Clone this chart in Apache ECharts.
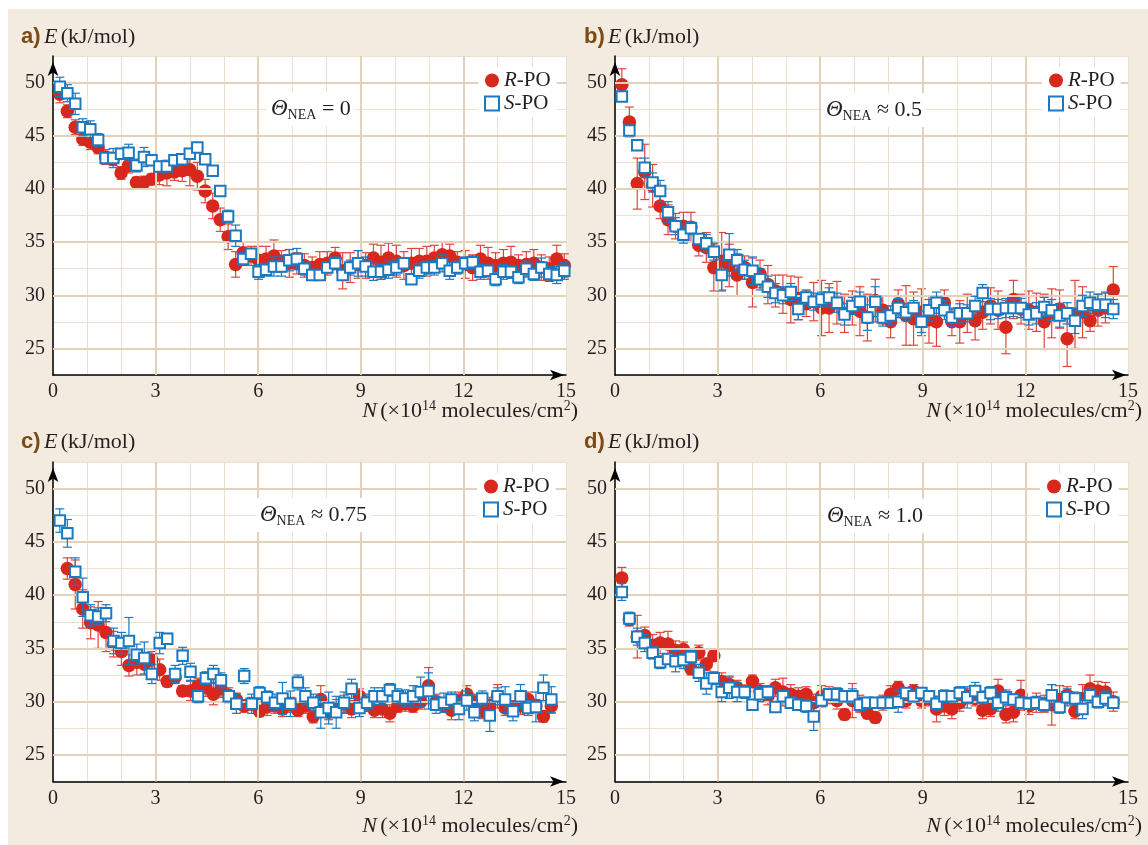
<!DOCTYPE html>
<html><head><meta charset="utf-8">
<script src="https://cdn.jsdelivr.net/npm/echarts@6/dist/echarts.min.js"></script>
<style>html,body{margin:0;padding:0;background:#fff;}#c{width:1148px;height:845px;}</style>
</head><body><div id="c"></div>
<script>
// ---------- DATA ----------
const xTickLabels = [0, 3, 6, 9, 12, 15];
const yTickLabels = [25, 30, 35, 40, 45, 50];
const panelLetters = ['a)', 'b)', 'c)', 'd)'];
const thetaValues = ['= 0', '≈ 0.5', '≈ 0.75', '≈ 1.0'];
const seriesNames = ['R-PO', 'S-PO'];

const nA = [0.20,0.42,0.65,0.87,1.09,1.32,1.54,1.76,1.99,2.21,2.44,2.66,2.88,3.11,3.33,3.55,3.78,4.00,4.22,4.45,4.67,4.89,5.12,5.34,5.56,5.79,6.01,6.23,6.46,6.68,6.91,7.13,7.35,7.58,7.80,8.02,8.25,8.47,8.69,8.92,9.14,9.37,9.59,9.81,10.04,10.26,10.48,10.71,10.93,11.15,11.38,11.60,11.82,12.05,12.27,12.50,12.72,12.94,13.17,13.39,13.61,13.84,14.06,14.28,14.51,14.73,14.95];
const nBCD = [0.20,0.42,0.65,0.87,1.10,1.32,1.55,1.77,2.00,2.22,2.45,2.67,2.89,3.12,3.34,3.57,3.79,4.02,4.24,4.47,4.69,4.91,5.14,5.36,5.59,5.81,6.04,6.26,6.49,6.71,6.94,7.16,7.38,7.61,7.83,8.06,8.28,8.51,8.73,8.96,9.18,9.40,9.63,9.85,10.08,10.30,10.53,10.75,10.98,11.20,11.43,11.65,11.87,12.10,12.32,12.55,12.77,13.00,13.22,13.45,13.67,13.89,14.12,14.34,14.57];

// panel a (Theta = 0)
const rA = [48.9,47.3,45.8,44.7,44.4,43.9,43.0,42.8,41.5,42.2,40.6,40.6,40.9,41.3,41.5,41.6,41.7,41.8,41.2,39.8,38.4,37.1,35.5,32.9,34.0,33.7,33.3,33.4,33.7,33.2,33.0,33.0,32.8,32.6,32.9,33.0,33.5,32.3,32.6,32.9,32.8,33.5,33.1,33.5,33.2,32.8,33.0,33.2,33.2,33.5,33.8,33.7,33.1,32.9,32.6,33.4,33.0,32.8,33.0,33.1,32.8,32.9,33.0,32.6,32.5,33.4,32.8];
const rErrA = [0.8,0.6,0.7,0.6,0.7,0.6,0.7,0.6,0.6,0.7,0.5,0.6,0.5,0.9,1.2,0.8,1.0,1.5,1.3,1.1,1.2,1.1,1.2,1.2,1.0,0.9,1.3,1.2,1.5,1.0,1.3,1.0,1.1,1.0,1.2,1.1,1.0,1.7,1.4,1.3,1.2,1.3,1.6,1.4,1.5,1.3,1.4,1.2,1.4,1.2,1.2,1.1,1.0,1.3,1.2,1.3,1.5,1.2,1.3,1.5,1.0,1.2,1.3,1.2,1.1,1.3,1.1];
const sA = [49.6,49.0,48.0,45.8,45.6,44.6,42.9,42.9,43.3,43.4,42.2,43.0,42.7,42.1,42.1,42.7,42.8,43.3,43.9,42.8,41.7,39.8,37.4,35.6,33.4,33.9,32.2,32.4,32.7,32.7,33.3,33.4,32.5,31.9,31.9,32.6,33.0,31.9,32.6,33.0,32.7,32.2,32.2,32.4,32.6,33.0,31.5,32.3,32.6,32.6,33.0,32.3,32.6,33.0,33.1,32.2,32.3,31.5,32.2,32.2,31.7,32.5,32.0,32.6,32.0,31.9,32.3];
const sErrA = [0.9,0.8,1.0,0.8,0.8,0.6,0.5,0.9,0.5,0.8,0.6,0.9,0.5,0.4,0.4,0.5,0.5,0.5,0.4,0.5,0.4,0.5,0.6,1.0,0.6,0.5,0.7,0.6,0.9,0.9,1.0,1.0,0.6,0.4,0.5,0.5,0.6,0.5,0.7,1.2,0.9,0.8,0.7,0.8,0.7,0.5,0.4,0.7,0.6,0.7,0.8,0.8,0.6,0.6,0.6,0.7,0.5,0.6,0.7,0.6,0.6,0.7,0.6,0.9,0.7,0.8,0.8];

// panel b (Theta ~ 0.5)
const rB = [49.8,46.3,40.5,41.6,40.3,38.4,37.1,36.5,36.5,36.4,34.7,34.5,32.6,33.2,32.8,31.9,32.6,31.2,32.0,31.0,30.4,30.1,29.6,29.7,29.2,29.4,28.8,28.8,29.3,28.3,28.8,28.5,27.9,29.5,28.6,27.5,29.2,28.1,27.8,28.4,27.7,27.5,29.3,27.5,27.5,28.3,27.6,28.4,29.0,28.6,27.0,29.6,28.7,28.6,28.4,27.5,28.3,28.7,25.9,28.2,28.4,27.6,28.6,28.8,30.5];
const rErrB = [1.5,1.4,2.4,2.6,2.0,1.2,1.4,1.2,1.3,1.4,1.0,1.4,2.2,2.7,2.0,2.0,1.1,2.3,1.3,1.8,1.5,1.8,2.2,2.0,1.2,1.8,2.6,2.3,2.0,1.8,1.6,2.3,2.2,2.0,1.3,1.5,1.3,2.8,2.5,2.2,2.2,2.3,1.2,1.3,2.0,1.8,1.8,1.6,1.7,1.8,2.5,1.8,1.4,1.8,1.8,2.6,2.3,1.8,2.6,3.2,2.4,1.0,1.5,1.4,2.2];
const sB = [48.7,45.5,44.1,42.0,40.6,39.8,37.8,36.5,35.7,36.3,35.3,34.9,34.1,31.9,33.8,33.3,32.4,32.3,31.5,30.8,30.2,30.0,30.3,28.7,29.8,29.4,29.6,29.8,29.3,28.2,29.0,29.4,27.9,29.4,27.9,28.1,28.8,28.4,28.8,27.5,28.6,29.3,28.6,27.9,28.3,28.3,29.0,30.2,28.7,28.7,28.8,28.8,28.8,28.2,28.3,28.9,28.6,28.1,28.3,27.6,29.0,29.3,29.1,29.1,28.7];
const sErrB = [0.4,0.4,0.4,0.9,0.9,1.0,1.0,0.8,0.8,0.6,0.5,0.8,0.8,1.5,2.0,1.0,0.9,1.3,1.0,1.0,0.9,0.8,0.8,1.0,0.7,0.8,0.7,0.9,0.9,1.0,0.8,0.9,1.2,1.4,0.8,0.9,0.9,0.8,0.7,1.0,1.0,1.0,0.9,0.8,0.9,0.8,0.9,0.8,1.0,0.9,0.9,0.8,0.9,1.0,1.0,0.9,1.0,1.1,1.0,1.2,1.0,1.0,1.0,1.2,0.9];

// panel c (Theta ~ 0.75)
const rC = [null,42.5,41.0,38.7,37.4,37.2,36.5,35.4,34.7,33.4,33.7,33.5,33.9,33.0,31.9,32.3,31.0,31.0,31.5,31.3,30.7,31.2,30.6,30.2,29.6,29.8,29.1,29.5,29.6,29.3,29.7,29.2,29.6,28.6,30.2,29.0,29.4,29.8,29.3,30.5,29.8,29.2,29.3,28.9,29.6,29.8,29.6,30.0,31.5,30.0,29.6,29.2,30.1,30.7,30.0,29.1,29.6,30.5,29.4,29.4,29.6,30.2,29.6,28.6,29.6];
const rErrC = [null,1.0,2.3,1.8,1.5,2.2,1.8,1.2,1.3,1.0,1.2,1.0,0.8,1.0,0.5,0.6,0.5,0.9,0.7,0.8,1.0,0.8,0.7,0.6,0.6,0.6,0.5,0.8,0.7,0.7,0.7,0.6,0.7,0.6,1.3,0.7,0.8,0.8,0.8,0.7,0.7,0.7,0.8,0.8,0.6,0.7,0.6,0.7,1.7,0.7,0.6,0.9,0.8,0.8,0.7,0.7,0.8,1.1,0.7,0.7,0.8,0.7,0.6,0.5,0.7];
const sC = [47.0,45.8,42.2,39.8,38.1,38.0,38.3,35.7,35.5,35.7,34.4,34.1,32.6,35.5,35.9,32.6,34.3,32.8,30.5,32.2,32.6,32.0,30.5,29.8,32.4,29.8,30.8,30.4,29.9,30.3,29.8,31.8,30.5,29.9,29.0,29.4,29.0,29.9,31.2,29.4,29.9,30.5,30.5,31.1,30.5,30.3,30.5,30.9,31.0,29.7,29.9,30.2,29.3,30.1,29.0,30.3,28.7,30.5,30.2,29.1,30.5,29.4,29.5,31.3,30.2];
const sErrC = [1.1,1.3,1.3,1.8,1.0,0.8,0.8,1.2,1.0,2.2,1.0,1.5,0.9,1.0,0.5,0.8,0.8,0.8,0.6,0.6,0.8,0.7,0.5,0.9,0.7,0.9,0.6,0.6,0.8,1.5,1.2,0.7,0.8,0.8,1.5,1.5,1.5,1.0,0.9,0.8,0.8,0.8,0.8,0.6,0.7,0.8,1.0,1.4,1.7,0.8,0.9,0.7,1.0,0.9,0.8,0.7,1.5,0.8,1.2,0.9,1.1,0.7,1.4,1.2,1.2];

// panel d (Theta ~ 1.0)
const rD = [41.6,37.7,36.1,36.2,35.3,35.5,35.4,34.8,34.9,33.1,34.6,33.5,34.3,31.9,31.6,31.3,31.0,31.9,31.0,30.5,31.3,30.9,30.7,30.5,30.7,29.9,30.5,30.6,30.1,28.8,30.1,29.8,28.9,28.5,29.9,30.7,31.3,30.1,31.0,30.1,30.3,29.3,29.6,29.3,29.9,30.5,30.3,29.2,29.3,31.0,28.8,29.0,30.6,29.6,29.9,29.8,29.7,30.2,30.6,29.1,30.3,31.2,31.0,30.9,30.0];
const rErrD = [1.0,0.6,2.0,0.8,1.0,1.0,1.2,0.9,0.7,0.6,0.7,0.6,0.5,0.8,0.8,0.7,0.5,0.6,0.7,0.8,0.8,1.3,0.9,0.8,0.7,0.8,1.0,0.8,0.8,0.5,1.6,0.8,0.5,0.5,0.7,0.8,0.6,0.7,0.6,0.7,0.7,1.2,0.9,0.9,0.8,0.7,0.7,0.8,0.7,1.1,0.8,0.9,1.4,0.8,0.9,0.8,1.9,1.3,0.8,0.7,1.3,1.3,0.9,0.9,0.9];
const sD = [40.3,37.8,36.1,35.5,34.6,33.7,34.0,33.8,33.9,34.2,32.7,31.7,32.2,30.9,31.3,30.9,30.9,29.7,30.7,30.9,29.5,30.5,29.9,29.7,29.6,28.6,30.1,30.7,30.7,30.5,30.5,29.7,29.9,29.9,29.9,29.9,30.0,30.8,30.5,30.8,30.5,29.8,30.5,30.5,30.8,30.4,31.0,30.4,30.8,29.9,30.4,30.2,29.9,29.8,29.9,29.7,30.6,29.5,30.4,30.3,29.3,30.6,30.0,30.3,29.9];
const sErrD = [0.8,0.6,0.8,0.8,0.6,0.6,0.5,1.0,0.8,0.6,0.8,1.0,0.6,0.9,1.0,0.9,0.6,0.4,0.7,0.6,0.4,0.5,0.5,0.5,0.6,1.3,0.4,0.5,0.6,0.5,0.7,0.6,0.5,0.4,0.5,0.4,1.0,0.5,0.5,0.5,0.5,0.7,0.6,0.5,0.6,1.0,0.8,0.6,0.6,0.8,0.7,0.5,0.5,0.5,0.6,0.6,1.0,0.5,0.8,0.6,0.9,0.7,0.6,0.7,0.5];

const panelData = [
  {n: nA, r: rA, rErr: rErrA, s: sA, sErr: sErrA},
  {n: nBCD, r: rB, rErr: rErrB, s: sB, sErr: sErrB},
  {n: nBCD, r: rC, rErr: rErrC, s: sC, sErr: sErrC},
  {n: nBCD, r: rD, rErr: rErrD, s: sD, sErr: sErrD}
];

// ---------- LAYOUT / STYLE ----------
const SERIF = '"Liberation Serif", "DejaVu Serif", serif';
const SANS = '"Liberation Sans", Arial, sans-serif';
const RED = '#d8271c', RED_ERR = '#e0463c', BLUE = '#1b79c0';
const TXT = '#231f20', BEIGE = '#f3ebdf', GRID_MINOR = '#ece0cf', GRID_MAJOR = '#e3d1ba';
const layout = [
  {left: 53, top: 56, w: 513, h: 319, hx: 21, hy: 37, tx: 578, ty: 411, thx: 267, thy: 109, lgx: 478, lgy: 67},
  {left: 615, top: 56, w: 513, h: 319, hx: 584, hy: 37, tx: 1142, ty: 411, thx: 822, thy: 110, lgx: 1042, lgy: 67},
  {left: 53, top: 462, w: 513, h: 319.5, hx: 21, hy: 442, tx: 578, ty: 826, thx: 256, thy: 515, lgx: 477, lgy: 473},
  {left: 615, top: 462, w: 513, h: 319.5, hx: 584, hy: 442, tx: 1142, ty: 826, thx: 823, thy: 516, lgx: 1040, lgy: 473}
];

const chart = echarts.init(document.getElementById('c'), null, {renderer: 'canvas'});

function errorSeries(k, xs, ys, es, color, z) {
  const data = [];
  xs.forEach((x, i) => { if (ys[i] != null) data.push([x, ys[i], es[i]]); });
  return {
    type: 'custom', xAxisIndex: k, yAxisIndex: k, z: z, silent: true,
    data: data, encode: {x: 0, y: 1},
    renderItem: function (params, api) {
      const x = api.value(0), y = api.value(1), e = api.value(2);
      const t = api.coord([x, y + e]), b = api.coord([x, y - e]);
      const w = 4.5, st = {stroke: color, lineWidth: 1.2};
      return {type: 'group', children: [
        {type: 'line', shape: {x1: t[0], y1: t[1], x2: b[0], y2: b[1]}, style: st},
        {type: 'line', shape: {x1: t[0] - w, y1: t[1], x2: t[0] + w, y2: t[1]}, style: st},
        {type: 'line', shape: {x1: b[0] - w, y1: b[1], x2: b[0] + w, y2: b[1]}, style: st}
      ]};
    }
  };
}

const grids = [], xAxes = [], yAxes = [], series = [], legends = [], graphics = [];
graphics.push({type: 'rect', z: -100, silent: true, shape: {x: 8, y: 9, width: 1140, height: 836}, style: {fill: BEIGE}});

layout.forEach((L, k) => {
  grids.push({left: L.left, top: L.top, width: L.w, height: L.h, show: true, backgroundColor: '#fff', borderWidth: 0});
  xAxes.push({
    type: 'value', gridIndex: k, min: 0, max: 15, interval: 1,
    axisLine: {show: true, onZero: false, symbol: ['none', 'arrow'], symbolSize: [8, 14], symbolOffset: [0, -2], lineStyle: {color: '#000', width: 1.5}},
    axisTick: {show: false},
    axisLabel: {margin: 7, color: TXT, fontFamily: SERIF, fontSize: 20,
      formatter: v => xTickLabels.indexOf(v) >= 0 ? String(v) : ''},
    splitLine: {show: true, lineStyle: {color: GRID_MINOR, width: 1}}
  });
  yAxes.push({
    type: 'value', gridIndex: k, min: 22.5, max: 52.5, interval: 2.5,
    axisLine: {show: true, onZero: false, symbol: ['none', 'arrow'], symbolSize: [8, 14], symbolOffset: [0, -6], lineStyle: {color: '#000', width: 1.5}},
    axisTick: {show: false},
    axisLabel: {margin: 8, color: TXT, fontFamily: SERIF, fontSize: 20,
      formatter: v => yTickLabels.indexOf(v) >= 0 ? String(v) : ''},
    splitLine: {show: true, lineStyle: {color: GRID_MINOR, width: 1}}
  });
  // major grid lines
  series.push({
    type: 'line', xAxisIndex: k, yAxisIndex: k, data: [], z: 1, silent: true,
    markLine: {silent: true, symbol: 'none', label: {show: false}, animation: false,
      lineStyle: {color: GRID_MAJOR, width: 2, type: 'solid'},
      data: yTickLabels.map(v => ({yAxis: v})).concat(xTickLabels.slice(1, 5).map(v => ({xAxis: v})))}
  });
  const D = panelData[k];
  series.push(errorSeries(k, D.n, D.r, D.rErr, RED_ERR, 3));
  series.push({
    name: seriesNames[0], type: 'scatter', xAxisIndex: k, yAxisIndex: k, z: 4,
    symbol: 'circle', symbolSize: 13.5,
    itemStyle: {color: RED, opacity: 1},
    data: D.n.map((x, i) => [x, D.r[i]]).filter(p => p[1] != null)
  });
  series.push(errorSeries(k, D.n, D.s, D.sErr, BLUE, 5));
  series.push({
    name: seriesNames[1], type: 'scatter', xAxisIndex: k, yAxisIndex: k, z: 6,
    symbol: 'rect', symbolSize: 10.5,
    itemStyle: {color: '#fff', borderColor: BLUE, borderWidth: 2, opacity: 1},
    data: D.n.map((x, i) => [x, D.s[i]])
  });

  legends.push({
    left: L.lgx, top: L.lgy, orient: 'vertical', itemWidth: 14, itemHeight: 14, itemGap: 2,
    backgroundColor: '#fff', padding: [3, 6, 3, 6], selectedMode: false, z: 20,
    data: [
      {name: seriesNames[0], icon: 'circle', itemStyle: {color: RED, borderWidth: 0}},
      {name: seriesNames[1], icon: 'rect', itemStyle: {color: '#fff', borderColor: BLUE, borderWidth: 2}}
    ],
    formatter: n => '{i|' + n.charAt(0) + '}{t|' + n.slice(1) + '}',
    textStyle: {color: TXT, lineHeight: 21, rich: {
      i: {fontFamily: SERIF, fontStyle: 'italic', fontSize: 21, color: TXT, lineHeight: 21},
      t: {fontFamily: SERIF, fontSize: 21, color: TXT, lineHeight: 21}
    }}
  });

  // header "a) E (kJ/mol)"
  graphics.push({type: 'text', x: L.hx, y: L.hy, silent: true, style: {
    text: '{p|' + panelLetters[k] + '} {e|E} {u|(kJ/mol)}',
    verticalAlign: 'middle', textVerticalAlign: 'middle',
    rich: {
      p: {fontFamily: SANS, fontWeight: 'bold', fontSize: 22, fill: '#7a4b14', color: '#7a4b14'},
      e: {fontFamily: SERIF, fontStyle: 'italic', fontSize: 22, fill: TXT, color: TXT},
      u: {fontFamily: SERIF, fontSize: 22, fill: TXT, color: TXT}
    }}});
  // x axis title
  graphics.push({type: 'text', x: L.tx, y: L.ty, silent: true, style: {
    text: '{i|N} {t|(×10}{s|14}{t| molecules/cm}{s|2}{t|)}',
    align: 'right', textAlign: 'right', verticalAlign: 'middle', textVerticalAlign: 'middle',
    rich: {
      i: {fontFamily: SERIF, fontStyle: 'italic', fontSize: 22, fill: TXT, color: TXT, lineHeight: 24},
      t: {fontFamily: SERIF, fontSize: 22, fill: TXT, color: TXT, lineHeight: 24},
      s: {fontFamily: SERIF, fontSize: 14, fill: TXT, color: TXT, verticalAlign: 'top', lineHeight: 14}
    }}});
  // theta annotation
  graphics.push({type: 'text', x: L.thx, y: L.thy, silent: true, z: 10, style: {
    text: '{th|Θ}{sub|NEA}{t| ' + thetaValues[k] + '}',
    verticalAlign: 'middle', textVerticalAlign: 'middle',
    backgroundColor: '#fff', padding: [4, 4, 4, 4],
    rich: {
      th: {fontFamily: SERIF, fontStyle: 'italic', fontSize: 23, fill: TXT, color: TXT, lineHeight: 26},
      sub: {fontFamily: SERIF, fontSize: 14, fill: TXT, color: TXT, verticalAlign: 'bottom', lineHeight: 15},
      t: {fontFamily: SERIF, fontSize: 22, fill: TXT, color: TXT, lineHeight: 26}
    }}});
});

chart.setOption({
  animation: false,
  backgroundColor: '#fff',
  grid: grids, xAxis: xAxes, yAxis: yAxes, series: series, legend: legends,
  graphic: {elements: graphics}
});
</script>
</body></html>
